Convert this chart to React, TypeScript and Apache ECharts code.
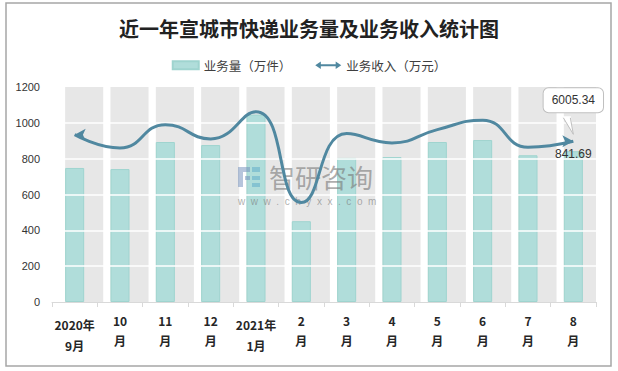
import React, { useEffect, useRef } from "react";
import * as echarts from "echarts";

const categories = [
  "2020年\n9月", "10\n月", "11\n月", "12\n月", "2021年\n1月", "2\n月",
  "3\n月", "4\n月", "5\n月", "6\n月", "7\n月", "8\n月",
];
// 业务量（万件）
const volume = [748, 742, 893, 876, 1046, 451, 804, 809, 893, 904, 819, 841.69];
// 业务收入（万元）— drawn position of the curve
const revenue = [934, 860, 990, 910, 1062, 555, 940, 888, 962, 1015, 864, 897];
const revenueLastLabel = "6005.34";
const yMin = 0;
const yMax = 1200;
const yInterval = 200;
const gridLevels = [200, 400, 600, 800, 1000];
const bandValues = categories.map(() => yMax);

const TITLE = "近一年宣城市快递业务量及业务收入统计图";
const LEGEND_BAR = "业务量（万件）";
const LEGEND_LINE = "业务收入（万元）";
const FONT = "'Noto Sans CJK SC', 'Liberation Sans', sans-serif";
const LINE_COLOR = "#5088a0";

export default function App() {
  const ref = useRef<HTMLDivElement>(null);
  useEffect(() => {
    document.body.style.margin = "0";
    const chart = echarts.init(ref.current!, null, { renderer: "svg" });
    const last = categories.length - 1;
    const option: any = {
      animation: false,
      textStyle: { fontFamily: FONT },
      title: {
        text: TITLE,
        left: "center",
        top: 13,
        textStyle: { fontSize: 20, fontWeight: "bold", color: "#222", fontFamily: FONT },
      },
      legend: {
        top: 54,
        left: "center",
        itemWidth: 26,
        itemHeight: 8,
        itemGap: 24,
        textStyle: { fontSize: 12.5, color: "#404040" },
        data: [
          { name: LEGEND_BAR, icon: "rect" },
          {
            name: LEGEND_LINE,
            icon: "path://M0,4 L6,0 L6,3 L22,3 L22,0 L28,4 L22,8 L22,5 L6,5 L6,8 Z",
          },
        ],
      },
      grid: { left: 52, right: 22, top: 87, bottom: 69, containLabel: false },
      xAxis: {
        type: "category",
        data: categories,
        axisLine: { lineStyle: { color: "#d9d9d9", width: 1 } },
        axisTick: { show: true, length: 5, lineStyle: { color: "#d9d9d9" } },
        axisLabel: {
          interval: 0,
          margin: 8,
          formatter: (v: string) =>
            v.includes("年")
              ? "{s| }\n" + v.split("\n").map((p) => "{y|" + p + "}").join("\n")
              : v.split("\n").map((p) => "{m|" + p + "}").join("\n"),
          rich: {
            s: { fontSize: 1, lineHeight: 4 },
            y: { fontSize: 12, fontWeight: "bold", color: "#262626", lineHeight: 21, fontFamily: FONT },
            m: { fontSize: 12, fontWeight: "bold", color: "#262626", lineHeight: 20, fontFamily: FONT },
          },
        },
      },
      yAxis: {
        type: "value",
        min: yMin,
        max: yMax,
        interval: yInterval,
        axisLine: { show: false },
        axisTick: { show: false },
        splitLine: { show: false },
        axisLabel: {
          fontSize: 11,
          color: "#333",
          margin: 12,
          formatter: (v: number) => String(v),
          fontFamily: "'Liberation Sans', sans-serif",
        },
      },
      series: [
        {
          type: "bar",
          name: "band",
          data: bandValues,
          barWidth: "84%",
          barGap: "-100%",
          silent: true,
          z: 1,
          itemStyle: { color: "#e7e7e7" },
          markLine: {
            silent: true,
            symbol: "none",
            label: { show: false },
            lineStyle: { color: "#ffffff", width: 1.5, type: "solid" },
            data: gridLevels.map((v) => ({ yAxis: v })),
          },
        },
        {
          type: "bar",
          name: LEGEND_BAR,
          data: volume.map((v, i) =>
            i === last
              ? {
                  value: v,
                  label: {
                    show: true,
                    position: "top",
                    offset: [0, 14],
                    fontSize: 12,
                    color: "#333",
                    fontFamily: "'Liberation Sans', sans-serif",
                  },
                }
              : v
          ),
          barWidth: "42%",
          z: 3,
          itemStyle: { color: "#b0ddda", borderColor: "#9fd4cf", borderWidth: 1 },
        },
        {
          type: "line",
          name: LEGEND_LINE,
          data: revenue.map((v, i) => {
            if (i === 0) return { value: v, symbol: "arrow", symbolSize: [9, 11], symbolRotate: 90 };
            if (i === last)
              return {
                value: v,
                symbol: "arrow",
                symbolSize: [9, 11],
                symbolRotate: -90,
                label: {
                  show: true,
                  position: "top",
                  distance: 23,
                  offset: [5.5, 0],
                  formatter: () => revenueLastLabel,
                  backgroundColor: "#ffffff",
                  borderColor: "#bfbfbf",
                  borderWidth: 1,
                  borderRadius: 5,
                  padding: [5, 8, 5, 8],
                  fontSize: 12,
                  lineHeight: 14,
                  color: "#333",
                  fontFamily: "'Liberation Sans', sans-serif",
                },
              };
            return { value: v, symbol: "none" };
          }),
          smooth: 0.5,
          showSymbol: true,
          symbol: "none",
          z: 5,
          color: LINE_COLOR,
          itemStyle: { color: LINE_COLOR },
          lineStyle: { color: LINE_COLOR, width: 3 },
        },
      ],
    };
    chart.setOption(option);

    const [px, py] = chart.convertToPixel({ seriesIndex: 2 }, [last, revenue[last]]) as number[];
    const wmColor = "rgba(120,120,120,0.6)";
    const logoA = "rgba(110,140,185,0.5)";
    const logoB = "rgba(90,170,200,0.5)";
    const wmZ = 4;
    chart.setOption({
      graphic: [
        {
          type: "rect",
          silent: true,
          shape: { x: 6, y: 3, width: 605, height: 363 },
          style: { fill: "none", stroke: "#a6a6a6", lineWidth: 1.5 },
          z: 0,
        },
        { type: "rect", z: wmZ, silent: true, shape: { x: 238, y: 167, width: 5, height: 20 }, style: { fill: logoA } },
        { type: "rect", z: wmZ, silent: true, shape: { x: 243, y: 167, width: 7, height: 5 }, style: { fill: logoA } },
        { type: "rect", z: wmZ, silent: true, shape: { x: 245, y: 176, width: 5, height: 4 }, style: { fill: logoA } },
        { type: "rect", z: wmZ, silent: true, shape: { x: 252, y: 167, width: 8, height: 5 }, style: { fill: logoB } },
        { type: "rect", z: wmZ, silent: true, shape: { x: 252, y: 176, width: 8, height: 4 }, style: { fill: logoB } },
        { type: "rect", z: wmZ, silent: true, shape: { x: 252, y: 183, width: 8, height: 4 }, style: { fill: logoB } },
        {
          type: "text",
          z: wmZ,
          silent: true,
          x: 269,
          y: 163,
          style: { text: "智研咨询", fontSize: 26, fill: wmColor, fontFamily: FONT },
        },
        {
          type: "text",
          z: wmZ,
          silent: true,
          x: 238,
          y: 196,
          style: {
            text: "w  w  w  .  c  h  y  x  x  .  c  o  m",
            fontSize: 10,
            fill: wmColor,
            fontFamily: "'Liberation Sans', sans-serif",
          },
        },
        {
          type: "polygon",
          silent: true,
          z: 10,
          shape: { points: [[px - 10.5, py - 25], [px - 2.5, py - 25], [px, py - 7]] },
          style: { fill: "#ffffff" },
        },
        {
          type: "polyline",
          silent: true,
          z: 10,
          shape: { points: [[px - 10, py - 23.5], [px, py - 7], [px - 3, py - 23.5]] },
          style: { stroke: "#bfbfbf", lineWidth: 1, fill: "none" },
        },
      ],
    });
    return () => chart.dispose();
  }, []);
  return <div ref={ref} style={{ width: 618, height: 371 }} />;
}
